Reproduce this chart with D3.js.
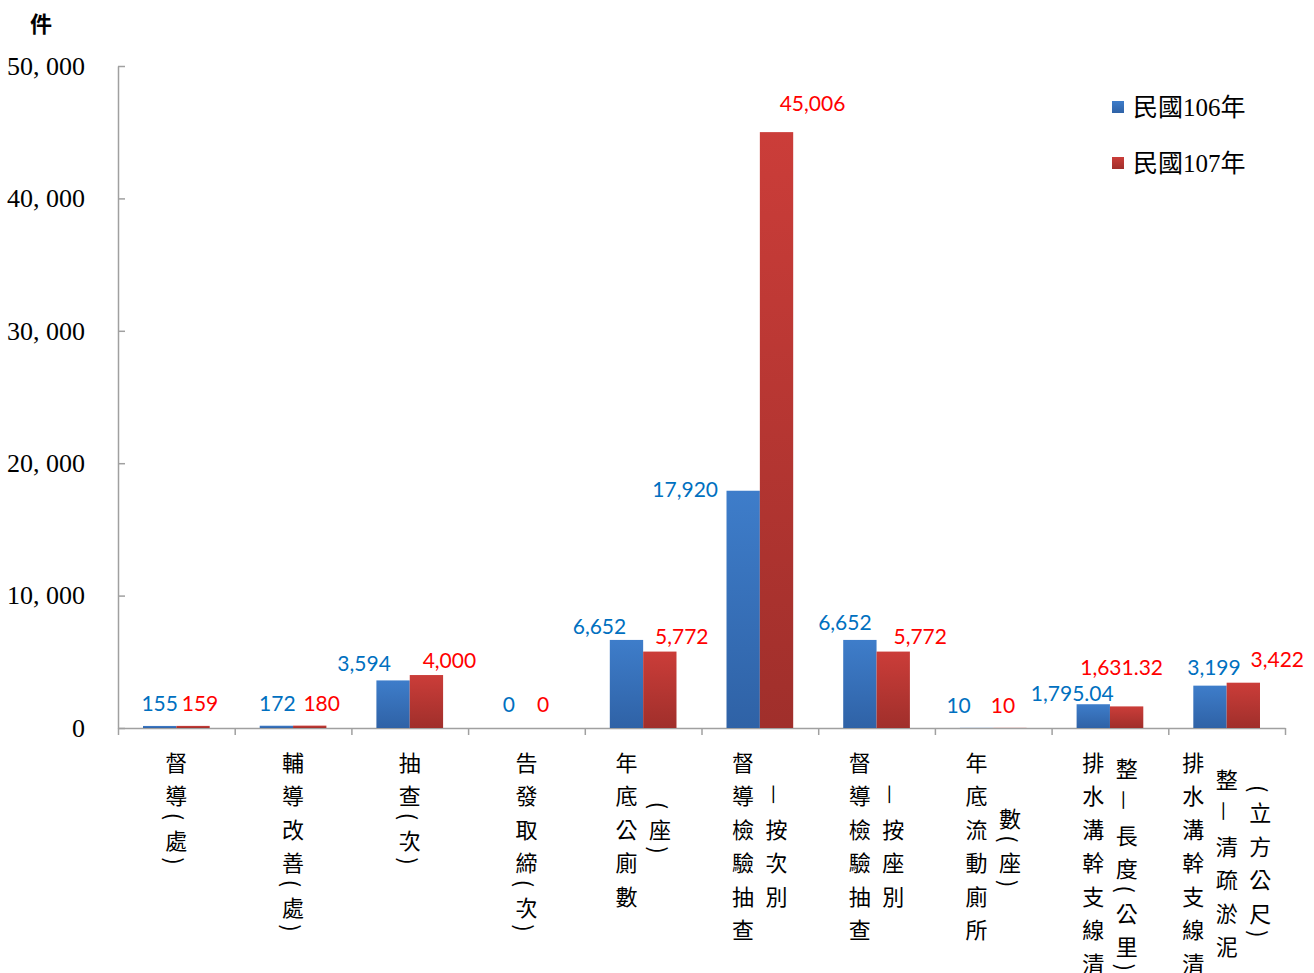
<!DOCTYPE html>
<html>
<head>
<meta charset="utf-8">
<script src="https://cdn.jsdelivr.net/npm/d3@7"></script>
<style>
  body { margin: 0; background: #fff; }
  svg { display: block; }
</style>
</head>
<body>
<svg id="svg" width="1314" height="973"></svg>
<script>
// category labels, already broken into the vertical columns shown under the axis
var categories = [
  ['督導(處)'],
  ['輔導改善(處)'],
  ['抽查(次)'],
  ['告發取締(次)'],
  ['年底公廁數', '(座)'],
  ['督導檢驗抽查', '—按次別'],
  ['督導檢驗抽查', '—按座別'],
  ['年底流動廁所', '數(座)'],
  ['排水溝幹支線清', '整—長度(公里)'],
  ['排水溝幹支線清', '整—清疏淤泥', '(立方公尺)']
];
var seriesNames = ['民國106年', '民國107年'];
var values106 = [155, 172, 3594, 0, 6652, 17920, 6652, 10, 1795.04, 3199];
var values107 = [159, 180, 4000, 0, 5772, 45006, 5772, 10, 1631.32, 3422];
var yTicks = [0, 10000, 20000, 30000, 40000, 50000];
var yUnit = '件';

// hand moved data labels (dx, dy) as in the original chart
var nudge106 = [[0,-1],[1,-1],[-29,5],[-1,-2],[-27,8],[-58,20],[-15,4],[-18,-1],[-21,11],[4,3]];
var nudge107 = [[7,-1],[12,-1],[23,7],[0,-2],[22,6],[36,-7],[27,6],[-7,-1],[-5,-17],[34,-2]];

var svg = d3.select('#svg');
var margin = { top: 66, left: 118, right: 29, bottom: 245 };
var width = 1314, height = 973;
var x0 = margin.left, x1 = width - margin.right;
var y0 = height - margin.bottom, y1 = margin.top;

var serif = "'Liberation Serif', 'Noto Sans CJK TC', serif";
var cjk = "'Noto Sans CJK TC', sans-serif";

var xScale = d3.scaleBand().domain(d3.range(categories.length)).range([x0, x1]).padding(0);
var bw = xScale.bandwidth();
var barW = bw / 3.5;
var yScale = d3.scaleLinear().domain([0, 50000]).range([y0, y1]);

// gradients
var defs = svg.append('defs');
function grad(id, top, bottom) {
  var g = defs.append('linearGradient').attr('id', id)
    .attr('x1', 0).attr('y1', 0).attr('x2', 0).attr('y2', 1);
  g.append('stop').attr('offset', '0%').attr('stop-color', top);
  g.append('stop').attr('offset', '100%').attr('stop-color', bottom);
}
grad('gBlue', '#3e7dca', '#2f62a6');
grad('gRed', '#cb3d39', '#a02f2b');

var series = [
  { name: seriesNames[0], values: values106, fill: 'url(#gBlue)', text: '#0070c0', nudge: nudge106, off: 0 },
  { name: seriesNames[1], values: values107, fill: 'url(#gRed)', text: '#ff0000', nudge: nudge107, off: 1 }
];

// axes
var yAxis = d3.axisLeft(yScale).tickValues(yTicks)
  .tickSizeInner(-7).tickSizeOuter(0).tickPadding(33)
  .tickFormat(function (d) { return d3.format(',')(d).replace(',', ', '); });
var gy = svg.append('g').attr('transform', 'translate(' + x0 + ',0)').call(yAxis);
gy.selectAll('path, line').attr('stroke', '#a0a0a0').attr('stroke-width', 1.5);
gy.selectAll('text').style('font-family', serif).style('font-size', '26px').attr('fill', '#000');

var xLin = d3.scaleLinear().domain([0, categories.length]).range([x0, x1]);
var xAxis = d3.axisBottom(xLin).ticks(categories.length).tickSizeInner(7).tickSizeOuter(0).tickFormat('');
var gx = svg.append('g').attr('transform', 'translate(0,' + y0 + ')').call(xAxis);
gx.selectAll('path, line').attr('stroke', '#a0a0a0').attr('stroke-width', 1.5);

// bars
series.forEach(function (s) {
  svg.append('g').selectAll('rect')
    .data(s.values)
    .join('rect')
    .attr('x', function (d, i) { return xScale(i) + bw * 0.75 / 3.5 + s.off * barW; })
    .attr('y', function (d) { return yScale(d); })
    .attr('width', barW)
    .attr('height', function (d) { return y0 - yScale(d); })
    .attr('fill', s.fill);
});

// data labels
series.forEach(function (s) {
  svg.append('g').selectAll('text')
    .data(s.values)
    .join('text')
    .attr('x', function (d, i) { return xScale(i) + bw * 0.75 / 3.5 + s.off * barW + barW / 2 + s.nudge[i][0]; })
    .attr('y', function (d, i) { return yScale(d) - 14 + s.nudge[i][1]; })
    .attr('text-anchor', 'middle')
    .style('font-family', "Lato, 'Open Sans', sans-serif")
    .style('font-size', '21px')
    .attr('fill', s.text)
    .text(function (d) { return d3.format(',')(d); });
});

// vertical category labels
var charAdv = 33.5, parenAdv = 11, colGap = 33.5, labelTop = 744;
function isRot(c) { return c === '(' || c === ')' || c === '—'; }
function adv(c) { return (c === '(' || c === ')') ? parenAdv : charAdv; }
var gl = svg.append('g');
categories.forEach(function (cols, i) {
  var cx = xScale(i) + bw / 2;
  var heights = cols.map(function (col) { return d3.sum(col.split(''), adv); });
  var maxH = d3.max(heights);
  cols.forEach(function (col, j) {
    var x = cx + (j - (cols.length - 1) / 2) * colGap;
    var y = labelTop + (maxH - heights[j]) / 2;
    col.split('').forEach(function (c) {
      var a = adv(c);
      var cy = y + a / 2;
      var t = gl.append('text')
        .attr('x', x).attr('y', cy)
        .attr('text-anchor', 'middle')
        .attr('dominant-baseline', 'central')
        .style('font-family', cjk)
        .style('font-size', '22px')
        .attr('fill', '#000')
        .text(c);
      if (isRot(c)) t.attr('transform', 'rotate(90,' + x + ',' + cy + ')');
      y += a;
    });
  });
});

// unit title
svg.append('text')
  .attr('x', 41).attr('y', 22)
  .attr('text-anchor', 'middle').attr('dominant-baseline', 'central')
  .style('font-family', cjk).style('font-weight', 'bold').style('font-size', '22px')
  .text(yUnit);

// legend
series.forEach(function (s, k) {
  var lg = svg.append('g').attr('transform', 'translate(1112,' + (101 + k * 56) + ')');
  lg.append('rect').attr('width', 12).attr('height', 12).attr('fill', s.fill);
  lg.append('text').attr('x', 21).attr('y', 15)
    .style('font-family', serif).style('font-size', '25px')
    .text(s.name);
});
</script>
</body>
</html>
